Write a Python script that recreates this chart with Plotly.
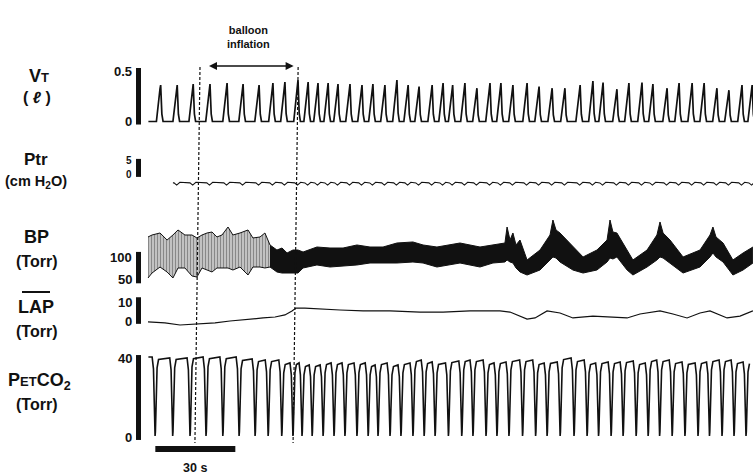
import plotly.graph_objects as go

W, H = 753, 475

# ---------------- data (time in s from start of record) ----------------
vt_peak_t = [4.0, 10.2, 16.2, 22.5, 28.9, 34.9, 40.9, 46.1, 50.6, 55.5, 59.3, 63.0,
             66.8, 70.5, 75.0, 79.5, 83.6, 88.1, 92.6, 96.8, 100.9, 105.8, 109.9,
             113.5, 118.1, 122.6, 127.5, 131.6, 136.1, 141.4, 145.9, 150.8, 155.6,
             161.3, 166.1, 169.9, 175.1, 179.6, 184.5, 188.6, 193.9, 198.4, 203.3,
             207.8, 212.6, 217.1, 222.0, 225.8]
vt_peak_l = [0.36, 0.36, 0.37, 0.37, 0.38, 0.37, 0.36, 0.38, 0.39, 0.41, 0.39, 0.38,
             0.38, 0.37, 0.37, 0.36, 0.37,
             0.36, 0.41, 0.36, 0.345, 0.36, 0.38, 0.36, 0.38, 0.33, 0.38, 0.38, 0.36,
             0.38, 0.345, 0.33, 0.33, 0.36, 0.40, 0.385, 0.32, 0.38, 0.385, 0.37,
             0.33, 0.38, 0.38, 0.38, 0.33, 0.31, 0.36, 0.36]

ptr_start_t = 8.6
ptr_base = -5.2
ptr_swing = 1.1

co2_trough_t = [1.9, 8.5, 15.0, 21.0, 27.3, 33.4, 39.4, 44.3, 49.4, 53.6, 57.0, 60.8,
                64.9, 69.0, 73.1, 77.6, 81.8, 85.5, 90.0, 94.1, 98.6, 102.8, 106.9,
                111.9, 116.9, 121.1, 126.0, 130.1, 134.6, 139.7, 144.6, 148.9, 153.8,
                159.0, 163.9, 168.2, 172.9, 177.4, 182.3, 186.8, 191.1, 195.8, 200.6,
                205.5, 209.8, 214.5, 219.0, 223.5]
co2_plateau = [40.5, 40, 40, 40.5, 40.5, 40.5, 39.5, 39, 39, 37.5, 37.5, 36.5, 36.5,
               37.5, 37.5, 37.5, 37.5, 36.5, 37.5, 36.5, 37.5, 39, 38,
               37.5, 38.5, 39, 39, 37.5, 38, 39, 39, 37.5, 38, 40, 39, 37.5, 38, 38,
               38.5, 37.5, 39, 39, 38, 37.5, 38, 39, 39, 38]
co2_trough = 0.5

bp_t = [-0.75, 0.75, 3.75, 6.4, 8.6, 10.5, 13.1, 15.75, 17.6, 19.5, 21.4, 23.25,
        25.1, 27.0, 29.25, 31.1, 33.75, 36.75, 38.6, 41.25, 43.1, 45.0, 47.6, 49.5,
        51.4, 53.6, 55.5, 57.4, 62.6, 67.5, 72.4, 77.6, 82.5, 87.4, 92.6, 98.6,
        102.4, 107.6, 112.5, 116.25, 123.75, 128.6, 133.1, 133.9, 135.0, 136.1,
        137.25, 138.75, 141.4, 146.25, 150.0, 151.1, 152.25, 153.75, 158.6, 162.4,
        167.6, 171.4, 172.5, 173.6, 175.1, 178.9, 181.1, 186.4, 190.1, 191.25,
        192.4, 195.0, 199.9, 206.25, 210.0, 211.1, 212.25, 214.9, 218.6, 222.4, 226.1]
bp_hi = [147.7, 152.3, 157.0, 140.7, 152.3, 164.0, 152.3, 152.3, 145.4, 152.3, 157.0,
         159.3, 147.7, 152.3, 170.9, 152.3, 157.0, 164.0, 145.4, 147.7, 157.0, 129.1,
         117.4, 122.1, 110.5, 117.4, 117.4, 112.8, 124.4, 122.1, 122.1, 129.1, 124.4,
         124.4, 133.7, 136.1, 129.1, 124.4, 129.1, 133.7, 124.4, 129.1, 133.7, 170.9,
         140.7, 157.0, 129.1, 140.7, 94.2, 117.4, 152.3, 187.2, 164.0, 157.0, 124.4,
         101.2, 117.4, 140.7, 187.2, 159.3, 157.0, 117.4, 94.2, 117.4, 152.3, 182.6,
         157.0, 140.7, 101.2, 117.4, 152.3, 170.9, 147.7, 133.7, 94.2, 110.5, 124.4]
bp_lo = [52.3, 63.9, 77.9, 66.3, 52.3, 75.6, 75.6, 57.0, 54.6, 75.6, 70.9, 66.3,
         75.6, 75.6, 75.6, 70.9, 77.9, 59.3, 77.9, 77.9, 75.6, 77.9, 66.3, 63.9,
         63.9, 63.9, 63.9, 75.6, 82.6, 77.9, 80.2, 82.6, 87.2, 87.2, 87.2, 89.5,
         87.2, 77.9, 82.6, 87.2, 77.9, 87.2, 89.5, 94.2, 89.5, 87.2, 75.6, 66.3,
         59.3, 70.9, 94.2, 101.2, 98.8, 89.5, 70.9, 63.9, 70.9, 89.5, 98.8, 96.5,
         101.2, 70.9, 59.3, 77.9, 94.2, 101.2, 98.8, 87.2, 63.9, 77.9, 101.2, 110.5,
         101.2, 89.5, 59.3, 70.9, 87.2]
bp_dense_from = 45.0

lap_t = [-0.75, 5.6, 11.25, 17.6, 24.4, 30.0, 36.75, 42.4, 46.9, 50.6, 53.25, 54.75,
         58.1, 63.75, 71.25, 79.9, 90.0, 101.25, 109.9, 120.0, 131.25, 135.0, 141.4,
         144.4, 148.9, 153.75, 158.6, 166.1, 175.1, 178.9, 183.75, 191.25, 196.1,
         201.4, 206.25, 210.0, 216.4, 221.25, 226.1]
lap_v = [-0.5, -1.0, -2.1, -1.6, -1.0, 0.0, 1.0, 1.6, 2.1, 3.2, 5.3, 6.8,
         6.8, 6.3, 5.8, 5.3, 5.3, 4.7, 4.7, 5.3, 5.3, 4.7, 1.0,
         1.6, 5.3, 4.2, 1.6, 2.6, 2.1, 1.6, 3.7, 5.3, 3.7,
         1.6, 4.2, 5.3, 1.6, 2.6, 5.3]

inflation_t = [17.8, 54.6]
scale_bar_start_t = 2.0
scale_bar_len_s = 30

vt_ticks, ptr_ticks, bp_ticks, lap_ticks, co2_ticks = [0, 0.5], [0, 5], [50, 100], [0, 10], [0, 40]

# ---------------- layout helpers ----------------
PX_PER_S = 80 / 30
TRACE_X0 = 150


def px_x(p):
    return p / W


def px_y(p):
    return 1 - p / H


def yaxis(v1, p1, v2, p2, top_px, bot_px):
    s = (v2 - v1) / (p2 - p1)
    return dict(domain=[px_y(bot_px), px_y(top_px)],
                range=[v1 + (bot_px - p1) * s, v1 + (top_px - p1) * s],
                visible=False, fixedrange=True, anchor="x")


fig = go.Figure()
BLACK = "#111111"

# VT
xs, ys = [-0.6], [0.0]
for t, v in zip(vt_peak_t, vt_peak_l):
    xs += [t - 1.6, t - 0.25, t, t + 0.45, t + 0.9]
    ys += [0.0, 0.9 * v, v, 0.2 * v, 0.0]
fig.add_trace(go.Scatter(x=xs, y=ys, mode="lines", line=dict(color=BLACK, width=1.7),
                         yaxis="y", hoverinfo="skip"))

# Ptr
xs, ys = [ptr_start_t], [ptr_base]
for t in vt_peak_t:
    if t - 1.2 <= ptr_start_t:
        continue
    xs += [t - 1.2, t - 0.2, t + 1.0]
    ys += [ptr_base, ptr_base - ptr_swing, ptr_base + 0.3 * ptr_swing]
fig.add_trace(go.Scatter(x=xs, y=ys, mode="lines", line=dict(color=BLACK, width=1.1),
                         yaxis="y2", hoverinfo="skip"))

# BP band
pre = [(t, h, l) for t, h, l in zip(bp_t, bp_hi, bp_lo) if t <= bp_dense_from]
post = [(t, h, l) for t, h, l in zip(bp_t, bp_hi, bp_lo) if t >= bp_dense_from]
for seg, sol in ((pre, 0.68), (post, None)):
    st = [p[0] for p in seg]
    fig.add_trace(go.Scatter(x=st, y=[p[2] for p in seg], mode="lines",
                             line=dict(color=BLACK, width=1), yaxis="y3", hoverinfo="skip"))
    kw = dict(fill="tonexty")
    if sol is None:
        kw["fillcolor"] = BLACK
    else:
        kw["fillcolor"] = "white"
        kw["fillpattern"] = dict(shape="|", size=3, solidity=sol, fgcolor=BLACK, bgcolor="white")
    fig.add_trace(go.Scatter(x=st, y=[p[1] for p in seg], mode="lines",
                             line=dict(color=BLACK, width=1), yaxis="y3", hoverinfo="skip", **kw))

# LAP
fig.add_trace(go.Scatter(x=lap_t, y=lap_v, mode="lines", line=dict(color=BLACK, width=1.2),
                         yaxis="y4", hoverinfo="skip"))

# PETCO2
xs, ys = [-0.6], [co2_plateau[0]]
n = len(co2_trough_t)
for i, (tr, P) in enumerate(zip(co2_trough_t, co2_plateau)):
    nP = co2_plateau[i + 1] if i + 1 < n else P
    xs += [tr - 1.1, tr - 0.6, tr - 0.3, tr - 0.12, tr, tr + 0.12, tr + 0.35, tr + 0.75, tr + 1.3]
    ys += [P, P - 6, 14, 2.5, co2_trough, 2.5, 14, nP - 5, nP - 0.8]
fig.add_trace(go.Scatter(x=xs, y=ys, mode="lines", line=dict(color=BLACK, width=1.6),
                         yaxis="y5", hoverinfo="skip"))

axes = {
    "yaxis": yaxis(0, 121.5, 0.5, 71, 50, 135),
    "yaxis2": yaxis(0, 172.5, 5, 162.5, 150, 200),
    "yaxis3": yaxis(50, 279, 100, 257.5, 205, 290),
    "yaxis4": yaxis(0, 321, 10, 302, 290, 340),
    "yaxis5": yaxis(0, 437, 40, 358, 345, 455),
}

shapes, annotations = [], []
FONT = "Liberation Sans, Arial, sans-serif"

# scale bars + tick labels (tight pair on Ptr gets a small nudge apart)
bars = [("y", (-0.03, 0.53), vt_ticks, 13, 0), ("y2", (-2.2, 6.8), ptr_ticks, 10, 2),
        ("y3", (40, 113), bp_ticks, 13, 0), ("y4", (-1.5, 12.5), lap_ticks, 13, 0),
        ("y5", (-1.5, 41.5), co2_ticks, 13, 0)]
for ref, (b0, b1), ticks, fs, nudge in bars:
    shapes.append(dict(type="rect", xref="paper", yref=ref, x0=px_x(136), x1=px_x(141),
                       y0=b0, y1=b1, fillcolor=BLACK, line=dict(width=0)))
    for j, tv in enumerate(ticks):
        annotations.append(dict(xref="paper", yref=ref, x=px_x(133), y=tv, text=f"<b>{tv:g}</b>",
                                xanchor="right", yanchor="middle", showarrow=False,
                                yshift=nudge if j else -nudge, borderpad=0,
                                font=dict(family=FONT, size=fs, color=BLACK)))

# channel labels
labels = [
    ("<b>V<span style='font-size:13px'>T</span></b>", 39, 76, 18),
    ("<b>( <i>ℓ</i> )</b>", 37, 97, 16),
    ("<b>Ptr</b>", 36, 160, 17),
    ("<b>(cm H<sub>2</sub>O)</b>", 36, 182, 14.5),
    ("<b>BP</b>", 36, 237, 18),
    ("<b>(Torr)</b>", 36, 261, 16),
    ("<b>LAP</b>", 36, 307, 18),
    ("<b>(Torr)</b>", 36, 331, 16),
    ("<b>P<span style='font-size:13px'>ET</span>CO<sub>2</sub></b>", 39, 381, 18),
    ("<b>(Torr)</b>", 36, 404, 16),
]
for txt, x, y, sz in labels:
    annotations.append(dict(xref="paper", yref="paper", x=px_x(x), y=px_y(y), text=txt,
                            xanchor="center", yanchor="middle", showarrow=False,
                            font=dict(family=FONT, size=sz, color=BLACK)))
# LAP overline
shapes.append(dict(type="line", xref="paper", yref="paper", x0=px_x(22), x1=px_x(50),
                   y0=px_y(292), y1=px_y(292), line=dict(color=BLACK, width=2)))

# balloon inflation markers
for t in inflation_t:
    shapes.append(dict(type="line", xref="x", yref="paper", x0=t + 0.95, x1=t - 0.95,
                       y0=px_y(67), y1=px_y(443),
                       line=dict(color=BLACK, width=1.2, dash="3px,2px")))
annotations.append(dict(xref="x", yref="paper", x=inflation_t[1], y=px_y(66),
                        axref="x", ayref="pixel", ax=inflation_t[0], ay=0, text="",
                        showarrow=True, arrowside="end+start", arrowhead=2, startarrowhead=2,
                        arrowsize=1, startarrowsize=1, arrowwidth=1.6, arrowcolor=BLACK,
                        standoff=2, startstandoff=10))
annotations.append(dict(xref="x", yref="paper", x=sum(inflation_t) / 2 + 0.8, y=px_y(36.5),
                        text="<b>balloon<br>inflation</b>", showarrow=False,
                        xanchor="center", yanchor="middle",
                        font=dict(family=FONT, size=11, color=BLACK)))

# time scale bar
shapes.append(dict(type="rect", xref="x", yref="paper", x0=scale_bar_start_t,
                   x1=scale_bar_start_t + scale_bar_len_s, y0=px_y(452), y1=px_y(446),
                   fillcolor=BLACK, line=dict(width=0)))
annotations.append(dict(xref="x", yref="paper", x=scale_bar_start_t + scale_bar_len_s / 2,
                        y=px_y(468), text=f"<b>{scale_bar_len_s} s</b>", showarrow=False,
                        xanchor="center", yanchor="middle",
                        font=dict(family=FONT, size=12.5, color=BLACK)))

fig.update_layout(
    width=W, height=H, margin=dict(l=0, r=0, t=0, b=0, autoexpand=False),
    paper_bgcolor="white", plot_bgcolor="white", showlegend=False,
    xaxis=dict(domain=[0, 1], range=[-TRACE_X0 / PX_PER_S, (W - TRACE_X0) / PX_PER_S],
               visible=False, fixedrange=True, anchor="y"),
    shapes=shapes, annotations=annotations, **axes,
)

fig.write_html("out.html", config={"displayModeBar": False, "staticPlot": True},
               post_script="document.body.style.margin='0';document.body.style.overflow='hidden';")
